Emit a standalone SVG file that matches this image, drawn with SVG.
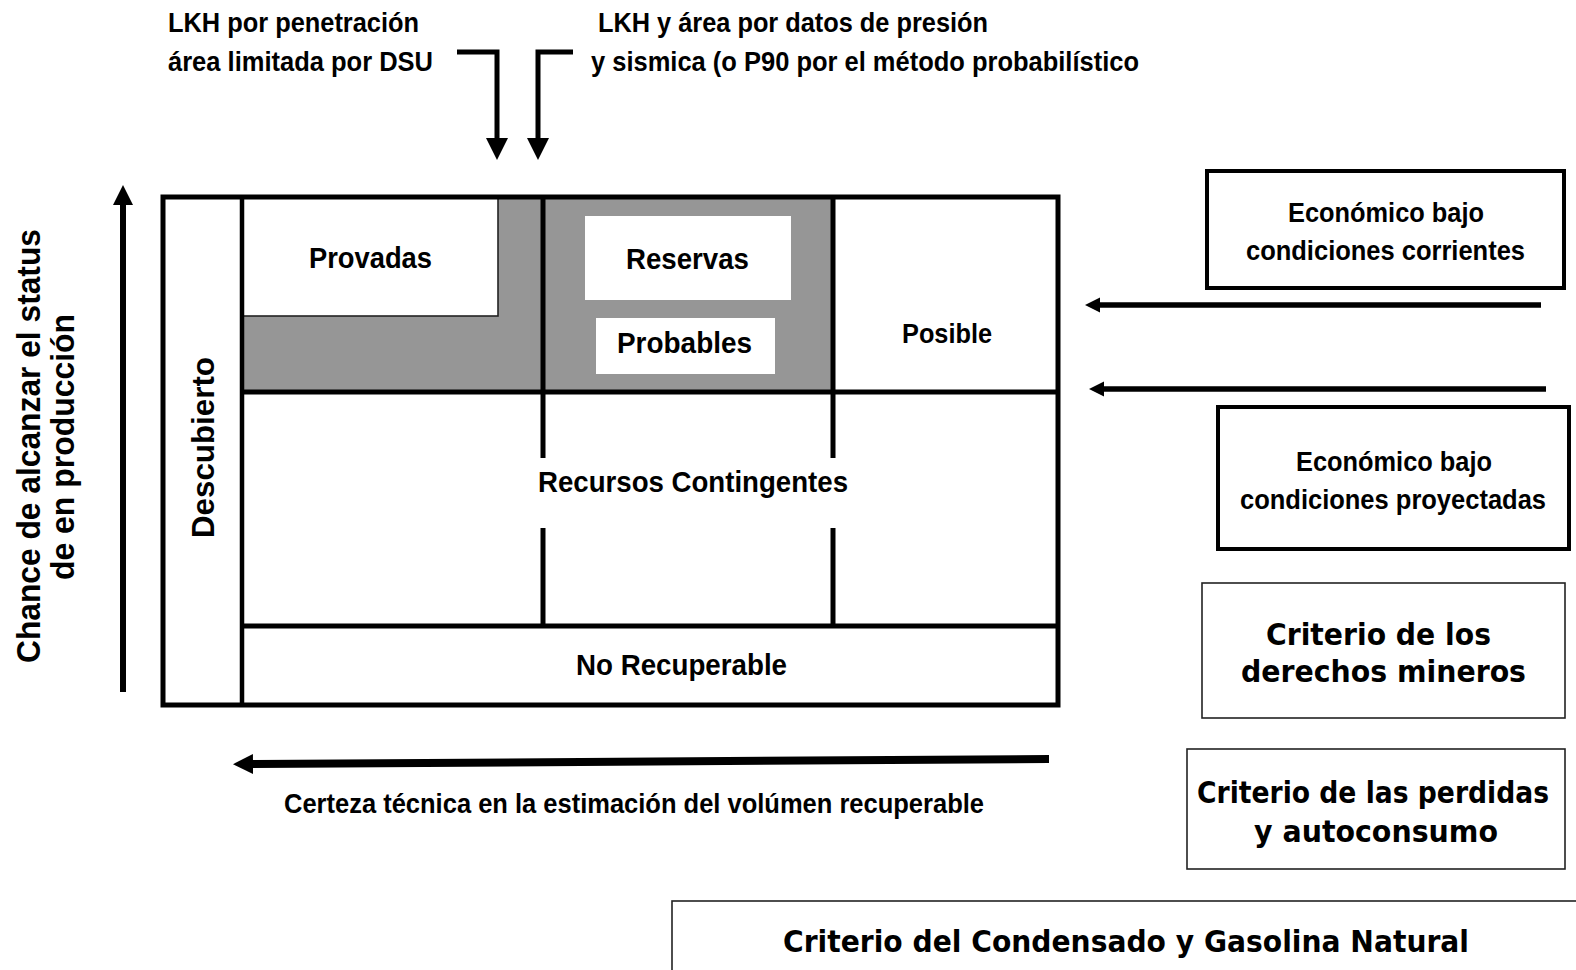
<svg xmlns="http://www.w3.org/2000/svg" width="1576" height="970" viewBox="0 0 1576 970">
<defs>
<style>
text{font-family:"Liberation Sans",Arial,sans-serif;font-weight:bold;fill:#000}
.t26{font-size:27px}
.t28{font-size:29px}
.t29{font-size:30px}
.tah{font-family:"DejaVu Sans","Liberation Sans",sans-serif;font-size:31px}
.ln{stroke:#000;stroke-width:5;fill:none}
.thin{stroke:#222;stroke-width:1.6;fill:#fff}
.thick{stroke:#000;stroke-width:4;fill:#fff}
</style>
<marker id="ahV" viewBox="0 0 10 10" refX="0" refY="5" markerUnits="userSpaceOnUse" markerWidth="24" markerHeight="22" orient="auto"><path d="M0,0 L10,5 L0,10 z" fill="#000"/></marker>
<marker id="ahUp" viewBox="0 0 10 10" refX="0" refY="5" markerUnits="userSpaceOnUse" markerWidth="24" markerHeight="20" orient="auto"><path d="M0,0 L10,5 L0,10 z" fill="#000"/></marker>
<marker id="ahH" viewBox="0 0 10 10" refX="0" refY="5" markerUnits="userSpaceOnUse" markerWidth="15" markerHeight="17" orient="auto"><path d="M0,0 L10,5 L0,10 z" fill="#000"/></marker>
<marker id="ahB" viewBox="0 0 10 10" refX="0" refY="5" markerUnits="userSpaceOnUse" markerWidth="20" markerHeight="25" orient="auto"><path d="M0,0 L10,5 L0,10 z" fill="#000"/></marker>
</defs>
<rect width="1576" height="970" fill="#fff"/>

<g id="top-labels">
<text class="t26" x="168" y="32" textLength="251" lengthAdjust="spacingAndGlyphs">LKH por penetración</text>
<text class="t26" x="168" y="71" textLength="265" lengthAdjust="spacingAndGlyphs">área limitada por DSU</text>
<text class="t26" x="598" y="32" textLength="390" lengthAdjust="spacingAndGlyphs">LKH y área por datos de presión</text>
<text class="t26" x="591" y="71" textLength="548" lengthAdjust="spacingAndGlyphs">y sismica (o P90 por el método probabilístico</text>
</g>

<g id="axis-labels">
<text transform="translate(40,663) rotate(-90)" style="font-size:33px" x="0" y="0" textLength="434" lengthAdjust="spacingAndGlyphs">Chance de alcanzar el status</text>
<text transform="translate(74,580) rotate(-90)" style="font-size:33px" x="0" y="0" textLength="266" lengthAdjust="spacingAndGlyphs">de en producción</text>
<text class="t26" x="284" y="813" textLength="700" lengthAdjust="spacingAndGlyphs">Certeza técnica en la estimación del volúmen recuperable</text>
</g>

<g id="matrix">
<rect x="163" y="197" width="895" height="508" fill="#fff"/>
<rect x="242" y="197" width="591" height="195" fill="#969696"/>
<rect id="provadas" class="thin" x="242" y="198" width="256" height="118"/>
<rect x="585" y="216" width="206" height="84" fill="#fff"/>
<rect x="596" y="318" width="179" height="56" fill="#fff"/>
<line class="ln" x1="242" y1="197" x2="242" y2="705" style="stroke-width:4.5"/>
<line class="ln" x1="242" y1="392" x2="1058" y2="392"/>
<line class="ln" x1="242" y1="626" x2="1058" y2="626"/>
<line class="ln" x1="543" y1="197" x2="543" y2="458"/>
<line class="ln" x1="543" y1="528" x2="543" y2="626"/>
<line class="ln" x1="833" y1="197" x2="833" y2="458"/>
<line class="ln" x1="833" y1="528" x2="833" y2="626"/>
<rect x="163" y="197" width="895" height="508" fill="none" stroke="#000" stroke-width="5"/>
<text class="t28" x="309" y="268" textLength="123" lengthAdjust="spacingAndGlyphs">Provadas</text>
<text class="t28" x="626" y="269" textLength="123" lengthAdjust="spacingAndGlyphs">Reservas</text>
<text class="t28" x="617" y="353" textLength="135" lengthAdjust="spacingAndGlyphs">Probables</text>
<text class="t26" x="902" y="343" textLength="90" lengthAdjust="spacingAndGlyphs">Posible</text>
<text class="t29" x="538" y="492" textLength="310" lengthAdjust="spacingAndGlyphs">Recursos Contingentes</text>
<text class="t28" x="576" y="675" textLength="211" lengthAdjust="spacingAndGlyphs">No Recuperable</text>
<text transform="translate(214,538) rotate(-90)" style="font-size:31px" x="0" y="0" textLength="181" lengthAdjust="spacingAndGlyphs">Descubierto</text>
</g>

<g id="box-corrientes">
<rect class="thick" x="1207" y="171" width="357" height="117"/>
<text class="t26" x="1288" y="222" textLength="196" lengthAdjust="spacingAndGlyphs">Económico bajo</text>
<text class="t26" x="1246" y="260" textLength="279" lengthAdjust="spacingAndGlyphs">condiciones corrientes</text>
</g>

<g id="box-proyectadas">
<rect class="thick" x="1218" y="407" width="351" height="142"/>
<text class="t26" x="1296" y="471" textLength="196" lengthAdjust="spacingAndGlyphs">Económico bajo</text>
<text class="t26" x="1240" y="509" textLength="306" lengthAdjust="spacingAndGlyphs">condiciones proyectadas</text>
</g>

<g id="box-mineros">
<rect class="thin" x="1202" y="583" width="363" height="135"/>
<text class="tah" x="1266" y="645" textLength="225" lengthAdjust="spacingAndGlyphs">Criterio de los</text>
<text class="tah" x="1241" y="682" textLength="285" lengthAdjust="spacingAndGlyphs">derechos mineros</text>
</g>

<g id="box-perdidas">
<rect class="thin" x="1187" y="749" width="378" height="120"/>
<text class="tah" x="1197" y="803" textLength="352" lengthAdjust="spacingAndGlyphs">Criterio de las perdidas</text>
<text class="tah" x="1254" y="842" textLength="244" lengthAdjust="spacingAndGlyphs">y autoconsumo</text>
</g>

<g id="box-condensado">
<rect class="thin" x="672" y="901" width="920" height="90"/>
<text class="tah" x="783" y="952" textLength="686" lengthAdjust="spacingAndGlyphs">Criterio del Condensado y Gasolina Natural</text>
</g>

<g id="connectors">
<polyline class="ln" points="457,52 497,52 497,138" marker-end="url(#ahV)"/>
<polyline class="ln" points="573,52 538,52 538,138" marker-end="url(#ahV)"/>
<line x1="123" y1="692" x2="123" y2="205" stroke="#000" stroke-width="6" marker-end="url(#ahUp)"/>
<line x1="1541" y1="305" x2="1100" y2="305" stroke="#000" stroke-width="5.5" marker-end="url(#ahH)"/>
<line x1="1546" y1="389" x2="1104" y2="389" stroke="#000" stroke-width="5.5" marker-end="url(#ahH)"/>
<line x1="1049" y1="759" x2="253" y2="764" stroke="#000" stroke-width="8" marker-end="url(#ahB)"/>
</g>
</svg>
